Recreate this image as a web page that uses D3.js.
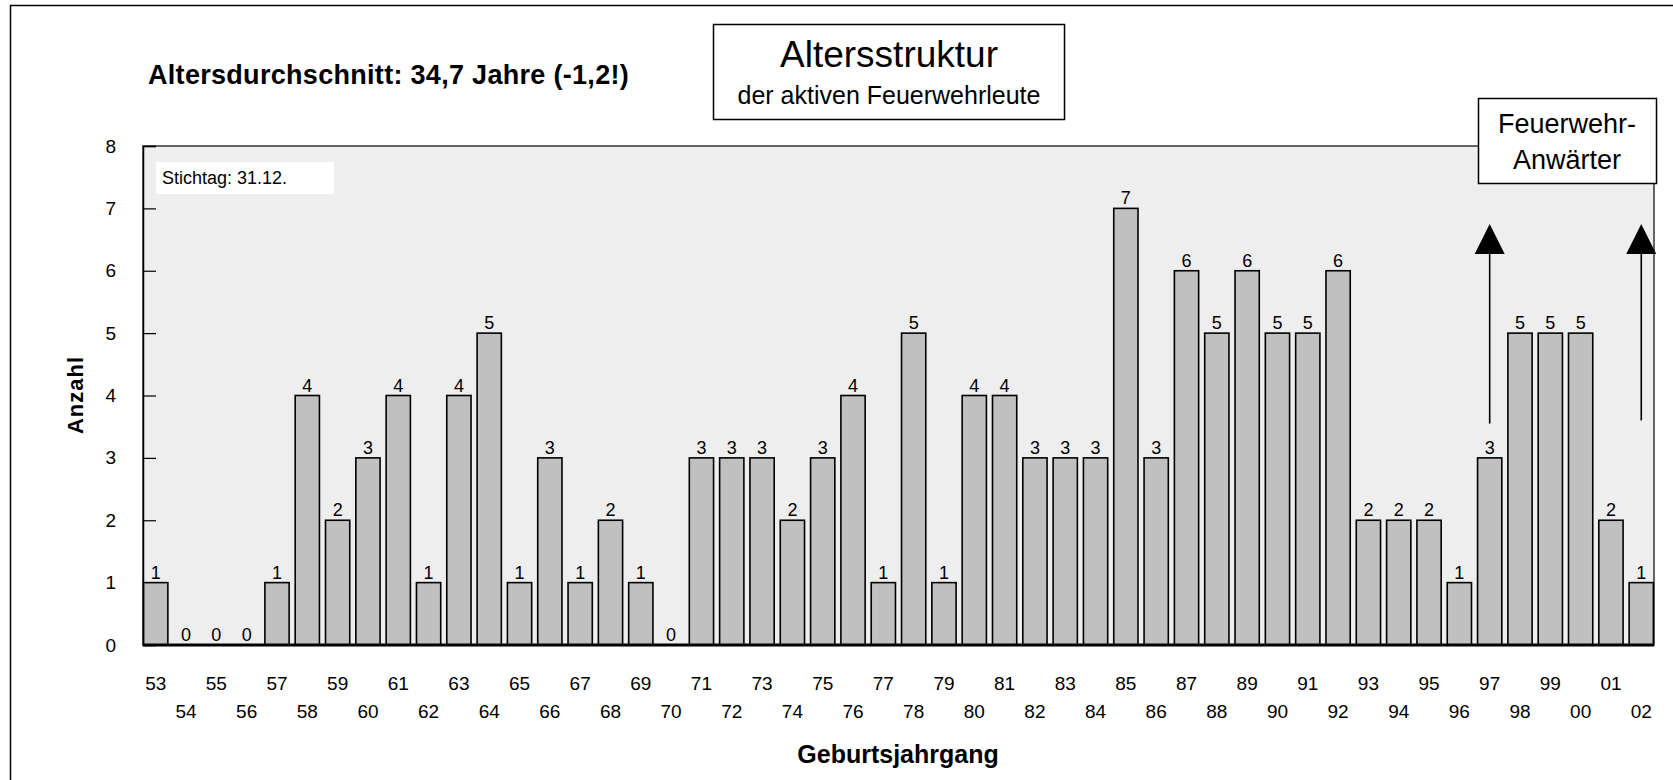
<!DOCTYPE html>
<html>
<head>
<meta charset="utf-8">
<script src="https://cdn.jsdelivr.net/npm/d3@7"></script>
<style>
  body { margin: 0; background: #fff; }
  text { font-family: "Liberation Sans", Arial, sans-serif; }
</style>
</head>
<body>
<div id="chart"></div>
<script>
var years = ["53","54","55","56","57","58","59","60","61","62","63","64","65","66","67","68","69","70",
             "71","72","73","74","75","76","77","78","79","80","81","82","83","84","85","86","87","88",
             "89","90","91","92","93","94","95","96","97","98","99","00","01","02"];
var counts = [1,0,0,0,1,4,2,3,4,1,4,5,1,3,1,2,1,0,
              3,3,3,2,3,4,1,5,1,4,4,3,3,3,7,3,6,5,
              6,5,5,6,2,2,2,1,3,5,5,5,2,1];
var yTicks = [0,1,2,3,4,5,6,7,8];
// arrows for Feuerwehr-Anwaerter (year, from, to)
var arrowYears = ["97","02"];
var arrowFrom = [3.55, 3.6];
var arrowTo = [6.75, 6.75];

var width = 1673, height = 780,
    plotL = 143, plotR = 1654, plotT = 146, plotB = 645;

var svg = d3.select('#chart').append('svg')
  .attr('width', width)
  .attr('height', height);

// outer frame
svg.append('rect')
  .attr('x', 10.5).attr('y', 5.5)
  .attr('width', 1700).attr('height', 800)
  .attr('fill', 'none').attr('stroke', '#000').attr('stroke-width', 1.5);

var x = d3.scaleBand()
  .domain(years)
  .range([plotL, plotR])
  .paddingInner(0.2)
  .paddingOuter(0.02);

var y = d3.scaleLinear()
  .domain([0, 8])
  .range([plotB, plotT]);

// plot area
svg.append('rect')
  .attr('x', plotL).attr('y', plotT)
  .attr('width', plotR - plotL).attr('height', plotB - plotT)
  .attr('fill', '#eeeeee').attr('stroke', '#333').attr('stroke-width', 1.5);

// Stichtag box
svg.append('rect')
  .attr('x', 156).attr('y', 162).attr('width', 178).attr('height', 32)
  .attr('fill', '#fff');
svg.append('text')
  .attr('x', 162).attr('y', 184)
  .attr('font-size', 18)
  .text('Stichtag: 31.12.');

// y axis
var yAxis = d3.axisLeft(y)
  .tickValues(yTicks)
  .tickSize(-13)
  .tickPadding(27)
  .tickFormat(d3.format('d'));

var gy = svg.append('g')
  .attr('transform', 'translate(' + plotL + ',0)')
  .call(yAxis);
gy.select('.domain').attr('stroke', '#000').attr('stroke-width', 1.5);
gy.selectAll('.tick line').attr('stroke', '#000').attr('stroke-width', 1.2);
gy.selectAll('.tick text')
  .attr('font-size', 19)
  .attr('fill', '#000')
  .attr('font-family', '"Liberation Sans", Arial, sans-serif');

// bars
svg.selectAll('rect.bar')
  .data(counts)
  .enter().append('rect')
  .attr('class', 'bar')
  .attr('x', function(d, i) { return x(years[i]); })
  .attr('y', function(d) { return y(d); })
  .attr('width', x.bandwidth())
  .attr('height', function(d) { return plotB - y(d); })
  .attr('fill', '#c0c0c0')
  .attr('stroke', '#000')
  .attr('stroke-width', 1.6);

// value labels
svg.selectAll('text.val')
  .data(counts)
  .enter().append('text')
  .attr('class', 'val')
  .attr('x', function(d, i) { return x(years[i]) + x.bandwidth() / 2; })
  .attr('y', function(d) { return y(d) - 4; })
  .attr('text-anchor', 'middle')
  .attr('font-size', 18)
  .text(function(d) { return d; });

// baseline
svg.append('line')
  .attr('x1', plotL).attr('x2', plotR)
  .attr('y1', y(0)).attr('y2', y(0))
  .attr('stroke', '#000').attr('stroke-width', 3);

// x tick labels in two rows
svg.selectAll('text.xl')
  .data(years)
  .enter().append('text')
  .attr('class', 'xl')
  .attr('x', function(d) { return x(d) + x.bandwidth() / 2; })
  .attr('y', function(d, i) { return i % 2 === 0 ? 690 : 718; })
  .attr('text-anchor', 'middle')
  .attr('font-size', 19)
  .text(function(d) { return d; });

// axis titles
svg.append('text')
  .attr('x', 898).attr('y', 763)
  .attr('text-anchor', 'middle')
  .attr('font-size', 25).attr('font-weight', 'bold')
  .text('Geburtsjahrgang');

svg.append('text')
  .attr('transform', 'translate(83,395) rotate(-90)')
  .attr('text-anchor', 'middle')
  .attr('font-size', 22).attr('font-weight', 'bold')
  .attr('letter-spacing', 1)
  .text('Anzahl');

// subtitle
svg.append('text')
  .attr('x', 148).attr('y', 84)
  .attr('font-size', 27).attr('font-weight', 'bold')
  .attr('letter-spacing', 0.3)
  .text('Altersdurchschnitt: 34,7 Jahre (-1,2!)');

// title box
svg.append('rect')
  .attr('x', 713.5).attr('y', 24.5).attr('width', 351).attr('height', 95)
  .attr('fill', '#fff').attr('stroke', '#000').attr('stroke-width', 1.5);
svg.append('text')
  .attr('x', 889).attr('y', 67)
  .attr('text-anchor', 'middle')
  .attr('font-size', 37)
  .text('Altersstruktur');
svg.append('text')
  .attr('x', 889).attr('y', 104)
  .attr('text-anchor', 'middle')
  .attr('font-size', 25)
  .text('der aktiven Feuerwehrleute');

// Feuerwehr-Anwaerter box
svg.append('rect')
  .attr('x', 1478.5).attr('y', 98.5).attr('width', 178).attr('height', 85)
  .attr('fill', '#fff').attr('stroke', '#000').attr('stroke-width', 1.5);
svg.append('text')
  .attr('x', 1567).attr('y', 133)
  .attr('text-anchor', 'middle')
  .attr('font-size', 27)
  .text('Feuerwehr-');
svg.append('text')
  .attr('x', 1567).attr('y', 169)
  .attr('text-anchor', 'middle')
  .attr('font-size', 27)
  .text('Anwärter');

// arrows
var headH = 30, headW = 30;
arrowYears.forEach(function(yr, i) {
  var cx = x(yr) + x.bandwidth() / 2;
  var tip = y(arrowTo[i]);
  svg.append('line')
    .attr('x1', cx).attr('x2', cx)
    .attr('y1', y(arrowFrom[i])).attr('y2', tip + headH)
    .attr('stroke', '#000').attr('stroke-width', 1.6);
  svg.append('path')
    .attr('d', 'M' + cx + ',' + tip + 'L' + (cx + headW / 2) + ',' + (tip + headH) +
               'L' + (cx - headW / 2) + ',' + (tip + headH) + 'Z')
    .attr('fill', '#000');
});
</script>
</body>
</html>
